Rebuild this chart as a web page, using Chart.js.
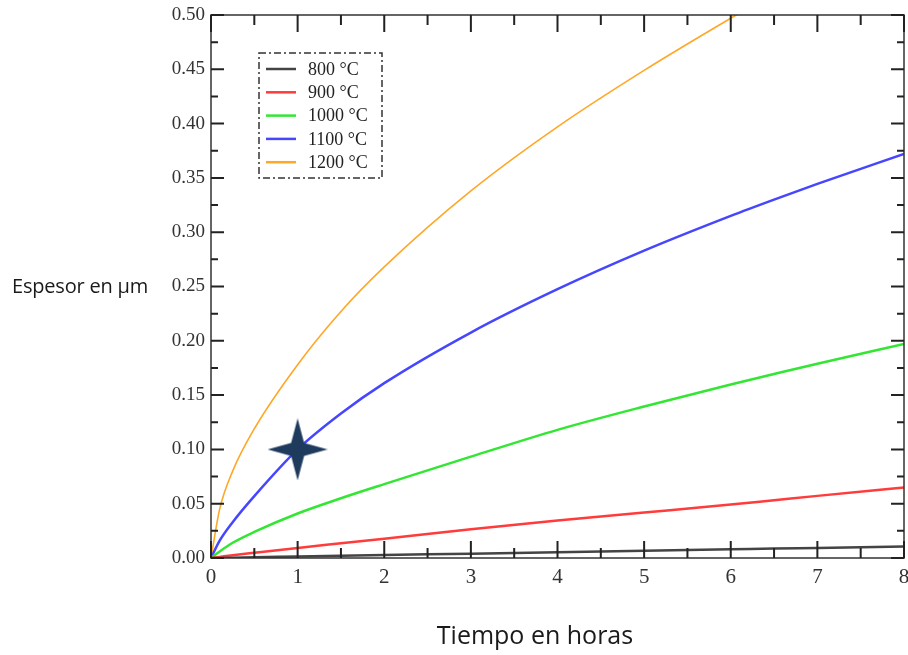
<!DOCTYPE html>
<html>
<head>
<meta charset="utf-8">
<script src="https://cdn.jsdelivr.net/npm/chart.js@4"></script>
<style>
  body { margin: 0; background: #fff; }
  #wrap { position: relative; width: 908px; height: 655px; }
  .axis-title { position: absolute; font-family: "Open Sans", sans-serif; color: #1a1a1a; white-space: nowrap; }
  #yTitle { left: 12px; top: 272px; font-size: 20px; letter-spacing: -0.2px; }
  #xTitle { left: 0; width: 1070px; text-align: center; top: 617px; font-size: 25px; }
</style>
</head>
<body>
<div id="wrap">
  <canvas id="chart" width="908" height="655"></canvas>
  <div class="axis-title" id="yTitle">Espesor en µm</div>
  <div class="axis-title" id="xTitle">Tiempo en horas</div>
</div>
<script>
// Data
const hours = [0, 0.1, 0.25, 0.5, 1, 1.5, 2, 3, 4, 5, 6, 6.5, 7, 8];
const t800 = [0, 0.0001, 0.0003, 0.0007, 0.0013, 0.002, 0.0027, 0.004, 0.0054, 0.0067, 0.008, 0.0087, 0.0093, 0.0106];
const t900 = [0, 0.001, 0.0025, 0.0048, 0.0093, 0.0135, 0.0177, 0.0265, 0.0345, 0.0418, 0.0492, 0.0532, 0.0572, 0.065];
const t1000 = [0, 0.006, 0.014, 0.024, 0.041, 0.055, 0.068, 0.0933, 0.118, 0.1395, 0.1597, 0.1694, 0.1789, 0.197];
const t1100 = [0, 0.016, 0.033, 0.057, 0.100, 0.133, 0.161, 0.2076, 0.2475, 0.283, 0.315, 0.330, 0.3445, 0.372];
const t1200 = [0, 0.045, 0.08, 0.119, 0.178, 0.227, 0.268, 0.338, 0.397, 0.449, 0.497, 0.52, null, null];
const seriesLabels = ['800 °C', '900 °C', '1000 °C', '1100 °C', '1200 °C'];
const seriesColors = ['#444444', '#ff3b3b', '#33e633', '#4646ff', '#ffa726'];
const seriesWidths = [2.5, 2.5, 2.5, 2.5, 1.6];
const xTicks = [0, 1, 2, 3, 4, 5, 6, 7, 8];
const yTicks = [0, 0.05, 0.1, 0.15, 0.2, 0.25, 0.3, 0.35, 0.4, 0.45, 0.5];
const starPoint = [{ x: 1, y: 0.1 }];

// four pointed star marker
function makeStar() {
  const c = document.createElement('canvas');
  c.width = 60; c.height = 62;
  const g = c.getContext('2d');
  g.fillStyle = '#1e3a5c';
  g.beginPath();
  g.moveTo(30, 0);
  g.lineTo(36.5, 24.5);
  g.lineTo(60, 31);
  g.lineTo(36.5, 37.5);
  g.lineTo(30, 62);
  g.lineTo(23.5, 37.5);
  g.lineTo(0, 31);
  g.lineTo(23.5, 24.5);
  g.closePath();
  g.fill();
  return c;
}

const seriesData = [t800, t900, t1000, t1100, t1200];
const datasets = seriesData.map((vals, i) => ({
  label: seriesLabels[i],
  data: hours.map((h, j) => ({ x: h, y: vals[j] })),
  borderColor: seriesColors[i],
  borderWidth: seriesWidths[i],
  pointRadius: 0,
  cubicInterpolationMode: 'monotone',
  fill: false,
  spanGaps: false
}));
datasets.push({
  label: 'star',
  data: starPoint,
  showLine: false,
  pointStyle: makeStar(),
  pointRadius: 30,
  order: -1
});

// frame with inward ticks on all four sides, plus the boxed legend
const framePlugin = {
  id: 'frame',
  afterDatasetsDraw(chart) {
    const { ctx, chartArea: a, scales } = chart;
    const xs = scales.x, ys = scales.y;
    ctx.save();
    ctx.strokeStyle = '#333';
    ctx.lineWidth = 1.5;
    ctx.strokeRect(a.left, a.top, a.right - a.left, a.bottom - a.top);
    ctx.strokeStyle = '#222';
    ctx.lineWidth = 2;
    ctx.beginPath();
    for (let v = 0; v <= 8; v += 0.5) {
      const px = xs.getPixelForValue(v);
      const len = Number.isInteger(v) ? 17 : 10;
      ctx.moveTo(px, a.bottom); ctx.lineTo(px, a.bottom - len);
      ctx.moveTo(px, a.top); ctx.lineTo(px, a.top + len);
    }
    for (let k = 0; k <= 20; k++) {
      const py = ys.getPixelForValue(k * 0.025);
      const len = k % 2 === 0 ? 13 : 7;
      ctx.moveTo(a.left, py); ctx.lineTo(a.left + len, py);
      ctx.moveTo(a.right, py); ctx.lineTo(a.right - len, py);
    }
    ctx.stroke();

    // legend box
    const bx = 259, by = 53, bw = 123, bh = 125;
    ctx.fillStyle = '#fff';
    ctx.fillRect(bx, by, bw, bh);
    ctx.strokeStyle = '#333';
    ctx.lineWidth = 1.5;
    ctx.setLineDash([7, 3, 2, 3]);
    ctx.strokeRect(bx, by, bw, bh);
    ctx.setLineDash([]);
    ctx.font = '18px "Liberation Serif", serif';
    ctx.textBaseline = 'middle';
    chart.data.datasets.slice(0, 5).forEach((ds, i) => {
      const ry = 69 + i * 23.3;
      ctx.strokeStyle = ds.borderColor;
      ctx.lineWidth = 2.5;
      ctx.beginPath();
      ctx.moveTo(266, ry); ctx.lineTo(296, ry);
      ctx.stroke();
      ctx.fillStyle = '#222';
      ctx.fillText(ds.label, 308, ry + 1);
    });
    ctx.restore();
  }
};

function noPad(s) {
  s.paddingTop = 0; s.paddingBottom = 0; s.paddingLeft = 0; s.paddingRight = 0;
}

new Chart(document.getElementById('chart'), {
  type: 'line',
  data: { datasets },
  options: {
    responsive: false,
    animation: false,
    devicePixelRatio: 1,
    layout: { autoPadding: false, padding: { left: 163, top: 15, right: 4, bottom: 57 } },
    plugins: { legend: { display: false }, tooltip: { enabled: false } },
    scales: {
      x: {
        type: 'linear', min: 0, max: 8,
        afterFit: (s) => { s.height = 40; noPad(s); },
        afterBuildTicks: (s) => { s.ticks = xTicks.map(v => ({ value: v })); },
        ticks: { padding: 7, color: '#333', font: { family: '"Liberation Serif", serif', size: 21 } },
        grid: { display: false, drawTicks: false },
        border: { display: false }
      },
      y: {
        type: 'linear', min: 0, max: 0.5,
        afterFit: (s) => { s.width = 48; noPad(s); },
        afterBuildTicks: (s) => { s.ticks = yTicks.map(v => ({ value: v })); },
        ticks: {
          padding: 6, color: '#333',
          font: { family: '"Liberation Serif", serif', size: 19 },
          callback: (v) => Number(v).toFixed(2)
        },
        grid: { display: false, drawTicks: false },
        border: { display: false }
      }
    }
  },
  plugins: [framePlugin]
});
</script>
</body>
</html>
